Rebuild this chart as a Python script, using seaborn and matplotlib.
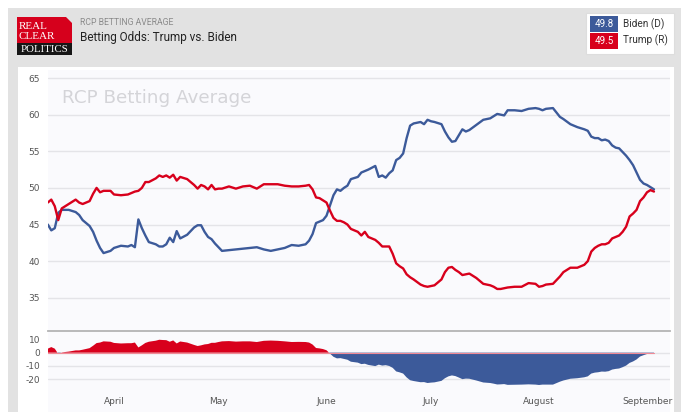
import numpy as np
import pandas as pd
import matplotlib
matplotlib.use("Agg")
import matplotlib.pyplot as plt
import seaborn as sns
from matplotlib.patches import Rectangle, Polygon

# ---------------- data ----------------
start_date = "2020-04-01"
day_offsets = [
    -19, -18, -17, -16, -15, -13, -11, -10, -9, -7,
    -6, -5, -4, -3, -1, 0, 2, 4, 5, 6,
    7, 8, 9, 10, 12, 13, 14, 15, 16, 17,
    18, 19, 21, 22, 23, 24, 25, 26, 27, 28,
    29, 30, 31, 33, 35, 37, 39, 41, 43, 45,
    47, 49, 51, 53, 55, 56, 57, 58, 59, 60,
    61, 62, 63, 64, 65, 66, 67, 68, 70, 71,
    72, 73, 75, 76, 77, 78, 79, 80, 81, 82,
    83, 84, 85, 86, 88, 89, 90, 91, 92, 94,
    95, 96, 97, 98, 99, 100, 101, 102, 104, 106,
    108, 109, 110, 111, 112, 113, 115, 117, 119, 121,
    122, 123, 124, 126, 127, 128, 129, 131, 133, 135,
    136, 137, 138, 139, 140, 141, 142, 143, 144, 145,
    146, 147, 148, 149, 150, 151, 152, 153, 154, 155,
]
biden = [
    45.0, 44.2, 44.5, 46.6, 47.0, 47.0, 46.7, 46.3, 45.6, 44.8,
    44.0, 42.8, 41.8, 41.1, 41.4, 41.8, 42.1, 42.0, 42.2, 41.9,
    45.7, 44.5, 43.5, 42.6, 42.3, 42.0, 42.0, 42.3, 43.2, 42.6,
    44.1, 43.1, 43.6, 44.1, 44.6, 44.9, 44.9, 44.0, 43.3, 43.0,
    42.4, 41.9, 41.4, 41.5, 41.6, 41.7, 41.8, 41.9, 41.6, 41.4,
    41.6, 41.8, 42.2, 42.1, 42.3, 42.8, 43.7, 45.2, 45.4, 45.6,
    46.2, 47.6, 49.0, 49.8, 49.6, 50.0, 50.3, 51.2, 51.5, 52.1,
    52.3, 52.5, 53.0, 51.5, 51.7, 51.4, 52.0, 52.4, 53.8, 54.1,
    54.7, 56.8, 58.5, 58.8, 59.0, 58.7, 59.3, 59.1, 59.0, 58.7,
    57.7, 56.9, 56.3, 56.4, 57.2, 58.0, 57.7, 57.9, 58.6, 59.3,
    59.5, 59.8, 60.1, 60.0, 59.9, 60.6, 60.6, 60.5, 60.8, 60.9,
    60.8, 60.6, 60.8, 60.9, 60.3, 59.7, 59.4, 58.7, 58.3, 58.0,
    57.8, 57.0, 56.8, 56.8, 56.5, 56.6, 56.4, 55.8, 55.5, 55.4,
    54.9, 54.4, 53.8, 53.1, 52.1, 51.1, 50.6, 50.4, 50.1, 49.8,
]
trump = [
    48.0, 48.4, 47.5, 45.6, 47.2, 47.8, 48.4, 48.0, 47.8, 48.2,
    49.2, 50.0, 49.4, 49.6, 49.6, 49.1, 49.0, 49.1, 49.3, 49.5,
    49.6, 50.0, 50.8, 50.8, 51.3, 51.7, 51.5, 51.7, 51.4, 51.8,
    51.0, 51.5, 51.2, 50.8, 50.4, 49.9, 50.4, 50.2, 49.8, 50.4,
    49.8, 49.9, 49.9, 50.2, 49.9, 50.2, 50.3, 49.9, 50.5, 50.5,
    50.5, 50.3, 50.2, 50.2, 50.3, 50.4, 49.8, 48.7, 48.6, 48.3,
    48.0, 46.9, 45.9, 45.5, 45.5, 45.3, 45.0, 44.4, 44.0, 43.5,
    44.0, 43.3, 42.9, 42.5, 42.0, 42.0, 42.0, 41.0, 39.7, 39.3,
    39.0, 38.2, 37.8, 37.5, 36.8, 36.6, 36.5, 36.6, 36.7, 37.5,
    38.5, 39.1, 39.2, 38.8, 38.5, 38.1, 38.2, 38.3, 37.7, 36.9,
    36.7, 36.5, 36.2, 36.2, 36.3, 36.4, 36.5, 36.5, 37.0, 36.9,
    36.5, 36.6, 36.8, 36.9, 37.4, 37.9, 38.5, 39.1, 39.1, 39.5,
    40.0, 41.3, 41.8, 42.1, 42.3, 42.3, 42.5, 43.1, 43.3, 43.5,
    44.0, 44.7, 46.1, 46.5, 47.0, 48.2, 48.7, 49.4, 49.7, 49.5,
]
month_labels = ["April", "May", "June", "July", "August", "September"]
month_starts = ["2020-04-01", "2020-05-01", "2020-06-01", "2020-07-01",
                "2020-08-01", "2020-09-01"]
main_yticks = [35, 40, 45, 50, 55, 60, 65]
spread_yticks = [10, 0, -10, -20]
candidates = ["Biden (D)", "Trump (R)"]

# ---------------- styling ----------------
BLUE = "#3c5a9a"
RED = "#d8001c"
GRID = "#e4e4e8"
TICK = "#555555"
W, H = 681, 412

dates = pd.Timestamp(start_date) + pd.to_timedelta(day_offsets, unit="D")
df = pd.DataFrame({"date": dates, "biden": biden, "trump": trump})
df["spread"] = df["trump"] - df["biden"]

sns.set_style("white")
plt.rcParams["font.family"] = ["DejaVu Sans"]
plt.rcParams["axes.unicode_minus"] = False

fig = plt.figure(figsize=(W / 100, H / 100), dpi=100)
fig.patch.set_facecolor("white")


def box(x0, y0, x1, y1):
    return [x0 / W, 1 - y1 / H, (x1 - x0) / W, (y1 - y0) / H]


# background / frame in pixel coordinates
bg = fig.add_axes([0, 0, 1, 1], zorder=0)
bg.set_xlim(0, W)
bg.set_ylim(H, 0)
bg.axis("off")
bg.add_patch(Rectangle((8, 8), W - 8, H - 8, color="#e2e2e2", lw=0))
grad = np.linspace(0, 1, 60).reshape(-1, 1)
bg.imshow(grad, extent=(8, W, 67, 8), cmap=matplotlib.colors.LinearSegmentedColormap.from_list(
    "g", ["#f5f5f5", "#e6e6e6"]), aspect="auto", zorder=0.5)
bg.add_patch(Rectangle((18, 67), 656, H - 67, color="white", lw=0, zorder=1))
bg.add_patch(Rectangle((47.7, 70), 622.3, H - 70, color="#fafafd", lw=0, zorder=1.2))

# logo
bg.add_patch(Polygon([(17, 17), (66, 17), (72, 23), (72, 44), (17, 44)],
                     closed=True, color="#d6001c", lw=0, zorder=2))
bg.add_patch(Rectangle((17, 43), 55, 12, color="#161616", lw=0, zorder=2))
bg.text(18.5, 26, "REAL", color="white", fontsize=8, family="Liberation Serif",
        va="center", ha="left", zorder=3)
bg.text(18.5, 36, "CLEAR", color="white", fontsize=8, family="Liberation Serif",
        va="center", ha="left", zorder=3)
bg.text(44.5, 49.5, "POLITICS", color="white", fontsize=7.8, family="Liberation Serif",
        va="center", ha="center", zorder=3)

# header titles
bg.text(80, 22.5, "RCP BETTING AVERAGE", color="#8a8a8a", fontsize=6.2,
        family="Roboto", va="center", ha="left", zorder=3)
bg.text(80, 37, "Betting Odds: Trump vs. Biden", color="#222222", fontsize=8.5,
        family="Roboto", va="center", ha="left", zorder=3)

# legend box
bg.add_patch(Rectangle((586, 13), 88, 41, facecolor="white", edgecolor="#dddddd",
                       lw=0.8, zorder=2))
for i, (name, col, val) in enumerate(zip(candidates, [BLUE, RED], [biden[-1], trump[-1]])):
    y0 = 16 + i * 16.5
    bg.add_patch(Rectangle((590, y0), 28, 16, color=col, lw=0, zorder=3))
    bg.text(604, y0 + 8.2, f"{val:.1f}", color="white", fontsize=7, family="Roboto",
            va="center", ha="center", zorder=4)
    bg.text(623, y0 + 8.2, name, color="#333333", fontsize=7.2, family="Roboto",
            va="center", ha="left", zorder=4)

# watermark
bg.text(62, 98, "RCP Betting Average", color="#d4d4d8", fontsize=13.2,
        va="center", ha="left", zorder=3)

x_lo = pd.Timestamp(start_date) + pd.Timedelta(days=-19.03)
x_hi = pd.Timestamp(start_date) + pd.Timedelta(days=159.6)

# ---------------- main panel ----------------
ax1 = fig.add_axes(box(47.7, 70, 670, 330.7), zorder=2)
ax1.set_facecolor("none")
for yv in main_yticks:
    ax1.axhline(yv, color=GRID, lw=1.0, zorder=0)
sns.lineplot(data=df, x="date", y="biden", color=BLUE, lw=1.7, ax=ax1, zorder=3)
sns.lineplot(data=df, x="date", y="trump", color=RED, lw=1.7, ax=ax1, zorder=4)
ax1.set_xlim(x_lo, x_hi)
ax1.set_ylim(30.5, 66.1)
ax1.set_yticks(main_yticks)
ax1.set_yticklabels([str(v) for v in main_yticks])
ax1.set_xticks([])
ax1.set_xlabel("")
ax1.set_ylabel("")
ax1.tick_params(axis="y", length=0, labelsize=6.5, colors=TICK, pad=5.5)
for s in ax1.spines.values():
    s.set_visible(False)

# ---------------- spread panel ----------------
ax2 = fig.add_axes(box(47.7, 330.7, 670, 389), zorder=2)
ax2.set_facecolor("none")
for yv in [0, -10, -20]:
    ax2.axhline(yv, color=GRID, lw=1.0, zorder=0)
ax2.fill_between(df["date"], df["spread"], 0, where=df["spread"] >= 0,
                 interpolate=True, color=RED, lw=0, zorder=2)
ax2.fill_between(df["date"], df["spread"], 0, where=df["spread"] <= 0,
                 interpolate=True, color=BLUE, lw=0, zorder=2)
sns.lineplot(x=df["date"], y=np.zeros(len(df)), color="#f08a96", lw=0.8, ax=ax2, zorder=3)
ax2.set_xlim(x_lo, x_hi)
ax2.set_ylim(-27.3, 16.5)
ax2.set_yticks(spread_yticks)
ax2.set_yticklabels([str(v) for v in spread_yticks])
ax2.set_xticks(pd.to_datetime(month_starts))
ax2.set_xticklabels(month_labels)
ax2.set_xlabel("")
ax2.set_ylabel("")
ax2.tick_params(axis="y", length=0, labelsize=6.5, colors=TICK, pad=5.5)
ax2.tick_params(axis="x", length=0, labelsize=6.5, colors=TICK, pad=6)
for k, s in ax2.spines.items():
    s.set_visible(k == "top")
ax2.spines["top"].set_color("#b4b4b4")
ax2.spines["top"].set_linewidth(1.3)

fig.savefig("out.png", dpi=100, facecolor=fig.get_facecolor())
